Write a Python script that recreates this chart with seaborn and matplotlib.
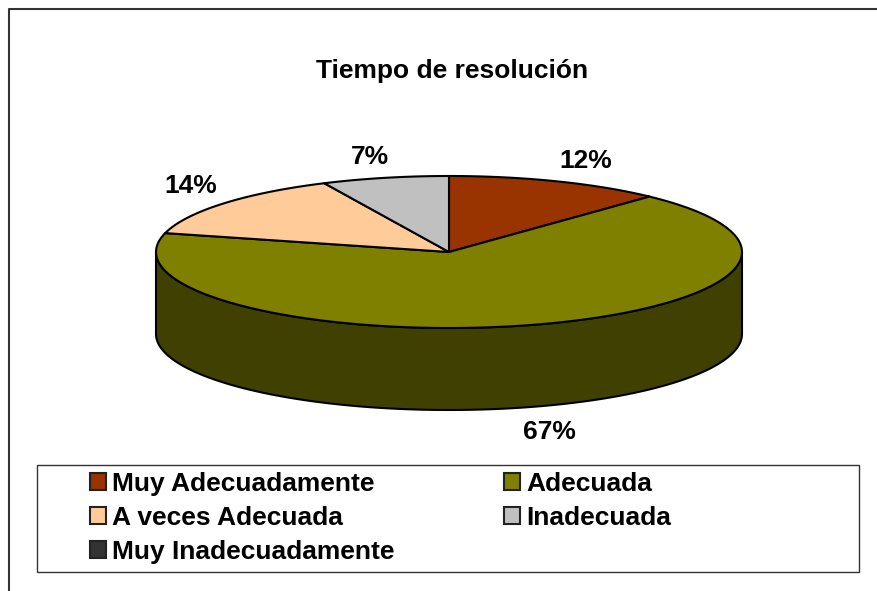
import numpy as np
import matplotlib.pyplot as plt
from matplotlib.colors import to_rgb
from matplotlib.patches import Patch, Rectangle
import seaborn as sns

# data
categories = ['Muy Adecuadamente', 'Adecuada', 'A veces Adecuada', 'Inadecuada', 'Muy Inadecuadamente']
values = [12, 67, 14, 7, 0]
colors = ['#993300', '#808000', '#FFCC99', '#C0C0C0', '#333333']
title = 'Tiempo de resolución'

sns.set_theme(style='white')
plt.rcParams['font.family'] = ['Liberation Sans', 'DejaVu Sans']

fig = plt.figure(figsize=(8.77, 5.91), dpi=100)
ax = fig.add_axes([0, 0, 1, 1])
ax.set_xlim(0, 877)
ax.set_ylim(591, 0)
ax.axis('off')

# outer chart frame, only top and left fall inside the picture
ax.plot([8.5, 8.5, 877], [591, 8.5, 8.5], color='#333333', lw=1.5)

# pie geometry in pixels
cx, cy, rx, ry, depth = 449, 252, 293, 76, 82
edge = dict(edgecolor='black', lw=1.5, joinstyle='round')


def rim(a0, a1):
    t = np.radians(np.linspace(a0, a1, 200))
    return cx + rx * np.sin(t), cy - ry * np.cos(t)


total = sum(values)
stops = np.cumsum([0] + values) / total * 360

# side wall, only the front half of the ellipse shows
for val, col, a0, a1 in zip(values, colors, stops[:-1], stops[1:]):
    lo, hi = max(a0, 90), min(a1, 270)
    if val == 0 or lo >= hi:
        continue
    x, y = rim(lo, hi)
    xs = np.r_[x, x[::-1]]
    ys = np.r_[y, y[::-1] + depth]
    ax.fill(xs, ys, facecolor=np.array(to_rgb(col)) * 0.5, **edge)

# top of the pie
for val, col, a0, a1 in zip(values, colors, stops[:-1], stops[1:]):
    if val == 0:
        continue
    x, y = rim(a0, a1)
    ax.fill(np.r_[cx, x], np.r_[cy, y], facecolor=col, **edge)

# percent labels, nudged away from the slice middle
nudges = [(29, 20), (19, -25), (-32, 18), (-15, 21)]
for val, a0, a1, (dx, dy) in zip(values, stops[:-1], stops[1:], nudges):
    mid = np.radians((a0 + a1) / 2)
    px = cx + rx * np.sin(mid)
    py = cy - ry * np.cos(mid) + (depth if np.cos(mid) < 0 else 0)
    ax.annotate(f'{val}%', xy=(px, py), xytext=(dx, dy), textcoords='offset pixels',
                ha='center', va='center', fontsize=19, fontweight='bold', color='black')

ax.text(452, 71, title, ha='center', va='center', fontsize=19, fontweight='bold', color='black')

# legend box
ax.add_patch(Rectangle((36.5, 464.5), 822, 107, facecolor='white', edgecolor='#333333', lw=1))
order = [0, 2, 4, 1, 3]
handles = [Patch(facecolor=colors[i], edgecolor='#222222', lw=1.5, label=categories[i]) for i in order]
leg = ax.legend(handles=handles, ncol=2, loc='upper left', bbox_to_anchor=(90, 472),
                bbox_transform=ax.transData, frameon=False, borderpad=0, borderaxespad=0,
                prop={'size': 19, 'weight': 'bold'}, labelcolor='black', handlelength=0.6,
                handleheight=0.6, handletextpad=0.25, labelspacing=0.37, columnspacing=4.13)

fig.savefig('out.png', dpi=100)
